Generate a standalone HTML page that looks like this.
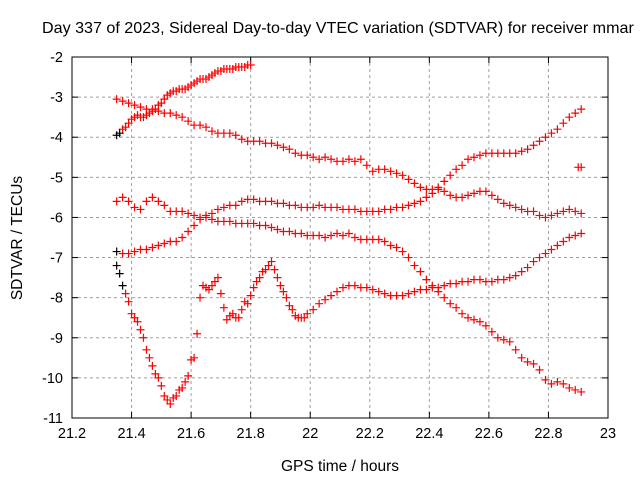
<!DOCTYPE html>
<html><head><meta charset="utf-8"><style>
body{margin:0;background:#fff;}
svg{display:block;font-family:"Liberation Sans",Arial,sans-serif;}
</style></head><body>
<svg id="chart" width="640" height="480">
<text x="42" y="33" font-size="16.1">Day 337 of 2023, Sidereal Day-to-day VTEC variation (SDTVAR) for receiver mmar</text>
<text transform="translate(22,238) rotate(-90)" text-anchor="middle" font-size="15.5">SDTVAR / TECUs</text>
<text x="340" y="471" text-anchor="middle" font-size="15.5">GPS time / hours</text>
<g id="grid"></g><g id="ticks"></g><g id="marks"></g>
<rect x="72" y="57" width="536" height="361" fill="none" stroke="#000" stroke-width="1"/>
</svg>
<script>
const xTicks=[21.2,21.4,21.6,21.8,22,22.2,22.4,22.6,22.8,23];
const xTickLabels=["21.2","21.4","21.6","21.8","22","22.2","22.4","22.6","22.8","23"];
const yTicks=[-2,-3,-4,-5,-6,-7,-8,-9,-10,-11];
const yTickLabels=["-2","-3","-4","-5","-6","-7","-8","-9","-10","-11"];
const aX=[21.35,21.36,21.37,21.38,21.39,21.40,21.41,21.42,21.43,21.44,21.45,21.46,21.47,21.48,21.49,21.50,21.51,21.52,21.53,21.54,21.55,21.56,21.57,21.58,21.59,21.60,21.61,21.62,21.63,21.64,21.65,21.66,21.67,21.68,21.69,21.70,21.71,21.72,21.73,21.74,21.75,21.76,21.77,21.78,21.79,21.80];
const aY=[-3.95,-3.9,-3.8,-3.75,-3.65,-3.55,-3.5,-3.45,-3.5,-3.5,-3.45,-3.4,-3.35,-3.3,-3.2,-3.15,-3.05,-2.95,-2.9,-2.85,-2.85,-2.8,-2.8,-2.8,-2.75,-2.7,-2.65,-2.6,-2.55,-2.55,-2.55,-2.5,-2.45,-2.4,-2.35,-2.35,-2.3,-2.3,-2.3,-2.3,-2.25,-2.25,-2.25,-2.25,-2.2,-2.2];
const bX=[21.35,21.37,21.39,21.41,21.43,21.45,21.47,21.49,21.51,21.53,21.55,21.57,21.59,21.61,21.63,21.65,21.67,21.69,21.71,21.73,21.75,21.77,21.79,21.81,21.83,21.85,21.87,21.89,21.91,21.93,21.95,21.97,21.99,22.01,22.03,22.05,22.07,22.09,22.11,22.13,22.15,22.17,22.19,22.21,22.23,22.25,22.27,22.29,22.31,22.33,22.35,22.37,22.39,22.41,22.43,22.45,22.47,22.49,22.51,22.53,22.55,22.57,22.59,22.61,22.63,22.65,22.67,22.69,22.71,22.73,22.75,22.77,22.79,22.81,22.83,22.85,22.87,22.89,22.91];
const bY=[-3.05,-3.1,-3.15,-3.2,-3.25,-3.3,-3.3,-3.35,-3.4,-3.4,-3.45,-3.5,-3.6,-3.7,-3.7,-3.75,-3.85,-3.9,-3.9,-3.9,-3.95,-4.05,-4.1,-4.1,-4.1,-4.15,-4.15,-4.2,-4.25,-4.3,-4.4,-4.45,-4.45,-4.5,-4.55,-4.5,-4.55,-4.6,-4.6,-4.55,-4.6,-4.55,-4.7,-4.85,-4.8,-4.8,-4.85,-4.9,-4.95,-5.05,-5.15,-5.25,-5.3,-5.3,-5.3,-5.35,-5.45,-5.5,-5.5,-5.45,-5.4,-5.35,-5.35,-5.45,-5.55,-5.65,-5.7,-5.75,-5.8,-5.85,-5.85,-5.95,-6.0,-5.95,-5.9,-5.85,-5.8,-5.85,-5.9];
const cX=bX;
const cY=[-5.6,-5.5,-5.6,-5.75,-5.8,-5.6,-5.5,-5.6,-5.7,-5.85,-5.85,-5.85,-5.9,-5.95,-6.0,-6.0,-6.05,-6.1,-6.1,-6.1,-6.15,-6.15,-6.15,-6.15,-6.2,-6.2,-6.25,-6.3,-6.35,-6.35,-6.4,-6.4,-6.45,-6.45,-6.45,-6.5,-6.45,-6.4,-6.45,-6.4,-6.5,-6.55,-6.55,-6.55,-6.55,-6.6,-6.7,-6.75,-6.85,-7.0,-7.2,-7.35,-7.55,-7.7,-7.85,-8.0,-8.15,-8.25,-8.4,-8.5,-8.55,-8.6,-8.7,-8.85,-9.0,-9.05,-9.1,-9.3,-9.5,-9.6,-9.65,-9.8,-10.05,-10.15,-10.1,-10.15,-10.25,-10.3,-10.35];
const dX=bX;
const dY=[-6.85,-6.9,-6.9,-6.85,-6.8,-6.8,-6.75,-6.7,-6.65,-6.6,-6.6,-6.5,-6.35,-6.2,-6.05,-5.95,-5.9,-5.8,-5.75,-5.7,-5.7,-5.6,-5.55,-5.55,-5.6,-5.6,-5.6,-5.65,-5.65,-5.7,-5.7,-5.75,-5.75,-5.75,-5.7,-5.75,-5.75,-5.75,-5.8,-5.8,-5.8,-5.85,-5.85,-5.85,-5.85,-5.8,-5.8,-5.75,-5.75,-5.7,-5.65,-5.6,-5.5,-5.4,-5.25,-5.1,-4.95,-4.8,-4.7,-4.55,-4.5,-4.45,-4.4,-4.4,-4.4,-4.4,-4.4,-4.4,-4.35,-4.3,-4.2,-4.1,-4.0,-3.9,-3.8,-3.65,-3.5,-3.4,-3.3];
const eX=[21.35,21.36,21.37,21.38,21.39,21.40,21.41,21.42,21.43,21.44,21.45,21.46,21.47,21.48,21.49,21.50,21.51,21.52,21.53,21.54,21.55,21.56,21.57,21.58,21.59,21.60,21.61,21.62,21.63,21.64,21.65,21.66,21.67,21.68,21.69,21.70,21.71,21.72,21.73,21.74,21.75,21.76,21.77,21.78,21.79,21.80,21.81,21.82,21.83,21.84,21.85,21.86,21.87,21.88,21.89,21.90,21.91,21.92,21.93,21.94,21.95,21.96,21.97,21.98,21.99,22.01,22.03,22.05,22.07,22.09,22.11,22.13,22.15,22.17,22.19,22.21,22.23,22.25,22.27,22.29,22.31,22.33,22.35,22.37,22.39,22.41,22.43,22.45,22.47,22.49,22.51,22.53,22.55,22.57,22.59,22.61,22.63,22.65,22.67,22.69,22.71,22.73,22.75,22.77,22.79,22.81,22.83,22.85,22.87,22.89,22.91];
const eY=[-7.2,-7.4,-7.7,-7.9,-8.1,-8.4,-8.5,-8.6,-8.8,-9.0,-9.3,-9.5,-9.7,-9.9,-10.0,-10.2,-10.45,-10.55,-10.65,-10.5,-10.45,-10.3,-10.25,-10.1,-9.95,-9.55,-9.5,-8.9,-8.0,-7.7,-7.75,-7.8,-7.7,-7.6,-7.5,-7.9,-8.25,-8.55,-8.45,-8.4,-8.5,-8.5,-8.3,-8.1,-8.15,-7.95,-7.75,-7.6,-7.5,-7.35,-7.3,-7.2,-7.1,-7.3,-7.5,-7.7,-7.85,-8.0,-8.2,-8.3,-8.45,-8.5,-8.5,-8.5,-8.4,-8.3,-8.15,-8.05,-7.95,-7.85,-7.75,-7.7,-7.7,-7.75,-7.75,-7.8,-7.85,-7.9,-7.95,-7.95,-7.95,-7.9,-7.85,-7.8,-7.8,-7.75,-7.75,-7.7,-7.65,-7.65,-7.6,-7.6,-7.55,-7.55,-7.6,-7.6,-7.55,-7.55,-7.5,-7.45,-7.35,-7.25,-7.1,-7.0,-6.9,-6.8,-6.7,-6.6,-6.5,-6.45,-6.4];
const oX=[22.9,22.91];
const oY=[-4.75,-4.75];

const ns="http://www.w3.org/2000/svg";
const L=72,R=608,T=57,B=418;
function sx(v){return L+(v-21.2)/(23-21.2)*(R-L);}
function sy(v){return T+(-2-v)/9*(B-T);}
const grid=document.getElementById('grid'),ticks=document.getElementById('ticks'),marks=document.getElementById('marks');
function mk(tag,attrs,parent){const e=document.createElementNS(ns,tag);for(const k in attrs)e.setAttribute(k,attrs[k]);parent.appendChild(e);return e;}
xTicks.forEach((v,i)=>{
  const x=sx(v);
  if(i>0&&i<xTicks.length-1){const g=mk('line',{x1:x,x2:x,y1:T,y2:B,stroke:'#a0a0a0','stroke-dasharray':'3,3'},grid);
  
  }
  mk('line',{x1:x,x2:x,y1:B,y2:B-6,stroke:'#000'},ticks);
  mk('line',{x1:x,x2:x,y1:T,y2:T+6,stroke:'#000'},ticks);
  const t=mk('text',{x:x,y:B+20,'text-anchor':'middle','font-size':'14.5'},ticks);t.textContent=xTickLabels[i];
  
  
});
yTicks.forEach((v,i)=>{
  const y=sy(v);
  if(i>0&&i<yTicks.length-1){const g=mk('line',{x1:L,x2:R,y1:y,y2:y,stroke:'#a0a0a0','stroke-dasharray':'3,3'},grid);
  
  }
  mk('line',{x1:L,x2:L+6,y1:y,y2:y,stroke:'#000'},ticks);
  mk('line',{x1:R,x2:R-6,y1:y,y2:y,stroke:'#000'},ticks);
  const t=mk('text',{x:L-9,y:y+5,'text-anchor':'end','font-size':'14.5'},ticks);t.textContent=yTickLabels[i];
  
  
});
function plus(x,y){return 'M'+(x-4)+' '+y+'h8M'+x+' '+(y-4)+'v8';}
function series(xs,ys,name,blackN){
  let red='',blk='';
  xs.forEach((v,i)=>{const p=plus(sx(v),sy(ys[i]));if(i<blackN)blk+=p;else red+=p;});
  const g=mk('g',{},marks);
  
  
  mk('path',{d:red,stroke:'#f00','stroke-width':'1.2',fill:'none'},g);
  if(blk)mk('path',{d:blk,stroke:'#000','stroke-width':'1.2',fill:'none'},g);
}
series(aX,aY,'series-a',2);
series(bX,bY,'series-b',0);
series(cX,cY,'series-c',0);
series(dX,dY,'series-d',1);
series(eX,eY,'series-e',3);
series(oX,oY,'series-outlier',0);
</script>
</body></html>
